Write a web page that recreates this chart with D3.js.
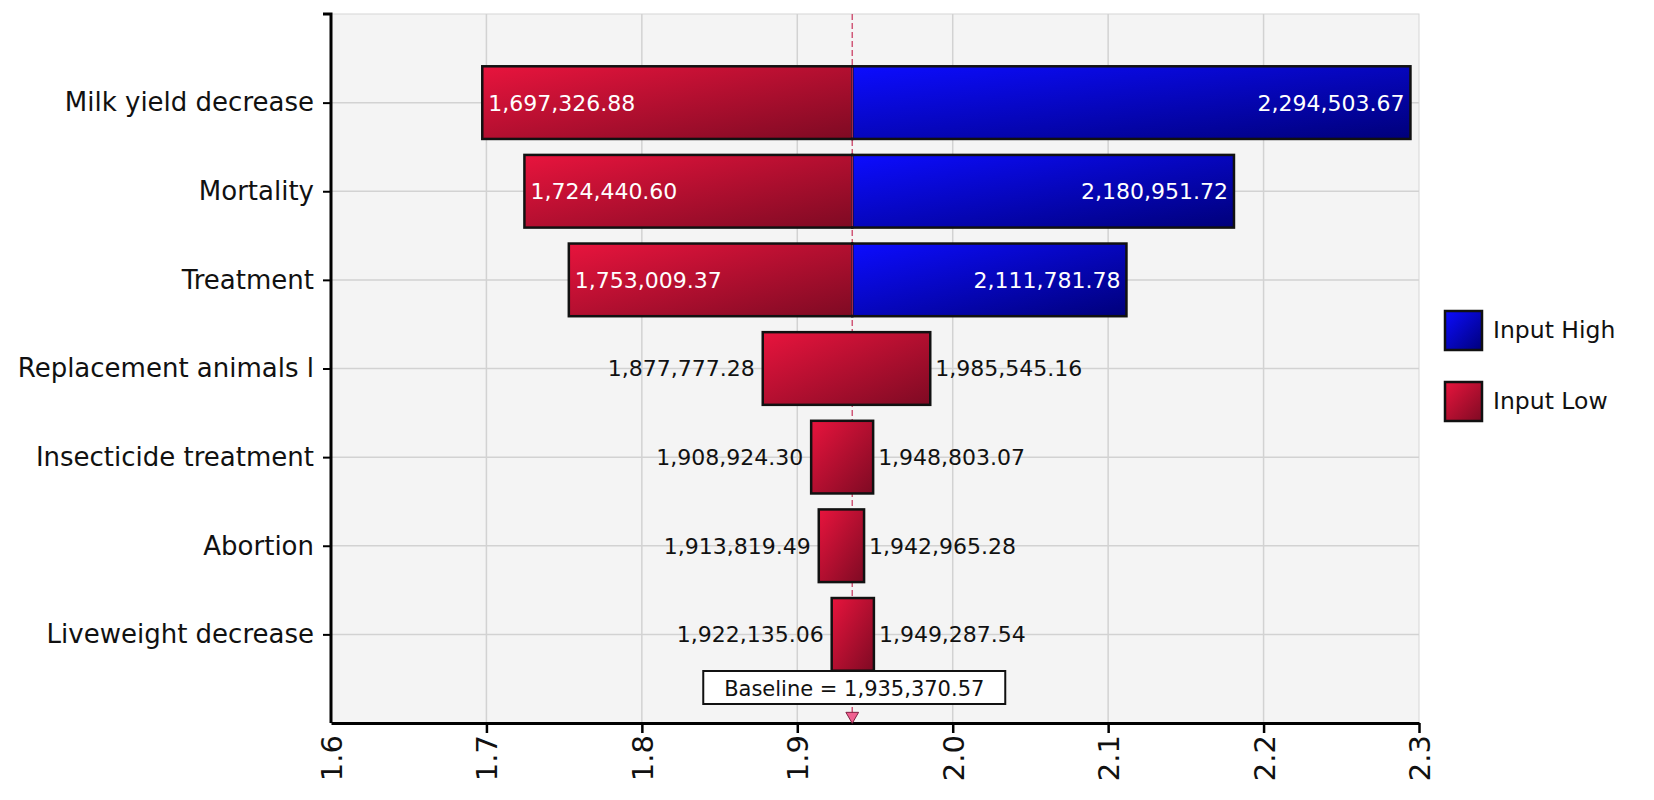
<!DOCTYPE html>
<html>
<head>
<meta charset="utf-8">
<script src="https://cdn.jsdelivr.net/npm/d3@7"></script>
<style>
  body { margin: 0; background: #fff; }
  text { font-family: "DejaVu Sans", Verdana, sans-serif; }
</style>
</head>
<body>
<div id="chart-area"></div>
<script>
// tornado chart data
const categories = ["Milk yield decrease", "Mortality", "Treatment", "Replacement animals l",
                    "Insecticide treatment", "Abortion", "Liveweight decrease"];
const lowValues  = [1697326.88, 1724440.60, 1753009.37, 1877777.28, 1908924.30, 1913819.49, 1922135.06];
const highValues = [2294503.67, 2180951.72, 2111781.78, 1985545.16, 1948803.07, 1942965.28, 1949287.54];
// which legend series the right half of each bar belongs to
const rightSeries = ["Input High", "Input High", "Input High", "Input Low", "Input Low", "Input Low", "Input Low"];
const baseline = 1935370.57;
const xTicks = [1.6e6, 1.7e6, 1.8e6, 1.9e6, 2.0e6, 2.1e6, 2.2e6, 2.3e6];
const legendItems = ["Input High", "Input Low"];

const W = 1654, H = 800;
const pLeft = 331, pTop = 14, pRight = 1419, pBottom = 723;

const svg = d3.select("#chart-area").append("svg")
  .attr("width", W)
  .attr("height", H);

const defs = svg.append("defs");
function grad(id, c1, c2) {
  const g = defs.append("linearGradient").attr("id", id)
    .attr("x1", 0).attr("y1", 0).attr("x2", 1).attr("y2", 1);
  g.append("stop").attr("offset", "0%").attr("stop-color", c1);
  g.append("stop").attr("offset", "100%").attr("stop-color", c2);
}
grad("gLow", "#e8143d", "#7e0a23");
grad("gHigh", "#0c0cff", "#00007a");
const fillOf = { "Input High": "url(#gHigh)", "Input Low": "url(#gLow)" };

const x = d3.scaleLinear().domain([1.6e6, 2.3e6]).range([pLeft, pRight]);
const y = d3.scalePoint().domain(categories).range([pTop, pBottom]).padding(1);
const barH = y.step() * 0.82;

// plot background
svg.append("rect")
  .attr("x", pLeft).attr("y", pTop)
  .attr("width", pRight - pLeft).attr("height", pBottom - pTop)
  .attr("fill", "#f4f4f4")
  .attr("stroke", "#d6d6d6");

// gridlines
svg.append("g").selectAll("line")
  .data(xTicks.slice(1, -1)).enter().append("line")
  .attr("x1", d => x(d)).attr("x2", d => x(d))
  .attr("y1", pTop).attr("y2", pBottom)
  .attr("stroke", "#d2d2d2").attr("stroke-width", 1.5);
svg.append("g").selectAll("line")
  .data(categories).enter().append("line")
  .attr("x1", pLeft).attr("x2", pRight)
  .attr("y1", d => y(d)).attr("y2", d => y(d))
  .attr("stroke", "#d2d2d2").attr("stroke-width", 1.5);

// baseline line
svg.append("line")
  .attr("x1", x(baseline)).attr("x2", x(baseline))
  .attr("y1", pTop).attr("y2", pBottom)
  .attr("stroke", "#d05878").attr("stroke-width", 1.5)
  .attr("stroke-dasharray", "6,3");

const rows = categories.map((c, i) => ({ c: c, lo: lowValues[i], hi: highValues[i], rs: rightSeries[i] }));

const fmt = d3.format(",.2f");
const g = svg.append("g");

rows.forEach(function (d) {
  const yc = y(d.c);
  if (d.rs == "Input Low") {
    // both halves same series -> one bar
    g.append("rect")
      .attr("x", x(d.lo)).attr("y", yc - barH / 2)
      .attr("width", x(d.hi) - x(d.lo)).attr("height", barH)
      .attr("fill", fillOf["Input Low"])
      .attr("stroke", "#111").attr("stroke-width", 2.5);
  } else {
    g.append("rect")
      .attr("x", x(d.lo)).attr("y", yc - barH / 2)
      .attr("width", x(baseline) - x(d.lo)).attr("height", barH)
      .attr("fill", fillOf["Input Low"])
      .attr("stroke", "#111").attr("stroke-width", 2.5);
    g.append("rect")
      .attr("x", x(baseline)).attr("y", yc - barH / 2)
      .attr("width", x(d.hi) - x(baseline)).attr("height", barH)
      .attr("fill", fillOf[d.rs])
      .attr("stroke", "#111").attr("stroke-width", 2.5);
    g.append("line")
      .attr("x1", x(baseline)).attr("x2", x(baseline))
      .attr("y1", yc - barH / 2 + 1.5).attr("y2", yc + barH / 2 - 1.5)
      .attr("stroke", "#a02848").attr("stroke-width", 1.5);
  }
});

// value labels
rows.forEach(function (d) {
  const yc = y(d.c);
  const tl = g.append("text").attr("y", yc).attr("dy", "0.36em")
    .attr("font-size", 22).text(fmt(d.lo));
  const wl = tl.node().getComputedTextLength();
  if (x(baseline) - x(d.lo) > wl + 14) {
    tl.attr("x", x(d.lo) + 6).attr("fill", "#fff");
  } else {
    tl.attr("x", x(d.lo) - 8).attr("text-anchor", "end").attr("fill", "#111");
  }
  const th = g.append("text").attr("y", yc).attr("dy", "0.36em")
    .attr("font-size", 22).text(fmt(d.hi));
  const wh = th.node().getComputedTextLength();
  if (x(d.hi) - x(baseline) > wh + 14) {
    th.attr("x", x(d.hi) - 6).attr("text-anchor", "end").attr("fill", "#fff");
  } else {
    th.attr("x", x(d.hi) + 5).attr("fill", "#111");
  }
});

// y axis
const yAxis = svg.append("g").attr("transform", "translate(" + pLeft + ",0)")
  .call(d3.axisLeft(y).tickSize(8).tickSizeOuter(0).tickPadding(9));
yAxis.select(".domain").attr("stroke", "#000").attr("stroke-width", 3)
  .attr("d", "M-8," + pTop + "H0V" + pBottom);
yAxis.selectAll(".tick line").attr("stroke", "#000").attr("stroke-width", 2);
yAxis.selectAll(".tick text").attr("font-size", 26).attr("fill", "#111")
  .attr("font-family", "DejaVu Sans");

// x axis
const xAxis = svg.append("g").attr("transform", "translate(0," + pBottom + ")")
  .call(d3.axisBottom(x).tickValues(xTicks).tickSize(10).tickSizeOuter(0)
    .tickFormat(d => (d / 1e6).toFixed(1)));
xAxis.select(".domain").attr("stroke", "#000").attr("stroke-width", 3);
xAxis.selectAll(".tick line").attr("stroke", "#000").attr("stroke-width", 2.5)
  .filter(d => d == xTicks[0]).remove();
xAxis.selectAll(".tick text")
  .attr("font-size", 29).attr("fill", "#111").attr("font-family", "DejaVu Sans")
  .attr("transform", "rotate(-90)")
  .attr("text-anchor", "end")
  .attr("x", -12).attr("y", 0).attr("dy", "0.36em");

// baseline label + marker
const bl = svg.append("g");
bl.append("rect")
  .attr("x", x(baseline) - 149).attr("y", 671)
  .attr("width", 302).attr("height", 33)
  .attr("fill", "#fff").attr("stroke", "#111").attr("stroke-width", 2);
bl.append("text")
  .attr("x", x(baseline) + 2).attr("y", 688).attr("dy", "0.36em")
  .attr("text-anchor", "middle").attr("font-size", 21).attr("fill", "#111")
  .text("Baseline = " + fmt(baseline));
bl.append("path")
  .attr("d", d3.symbol(d3.symbolTriangle, 70)())
  .attr("transform", "translate(" + x(baseline) + "," + (pBottom - 7) + ") rotate(180)")
  .attr("fill", "#f06090").attr("stroke", "#802040").attr("stroke-width", 1);

// legend
const leg = svg.append("g").attr("transform", "translate(1445,311)");
legendItems.forEach(function (s, i) {
  leg.append("rect").attr("x", 0).attr("y", i * 71)
    .attr("width", 37).attr("height", 39)
    .attr("fill", fillOf[s]).attr("stroke", "#111").attr("stroke-width", 2.5);
  leg.append("text").attr("x", 48).attr("y", i * 71 + 19).attr("dy", "0.36em")
    .attr("font-size", 23.5).attr("fill", "#111").text(s);
});
</script>
</body>
</html>
